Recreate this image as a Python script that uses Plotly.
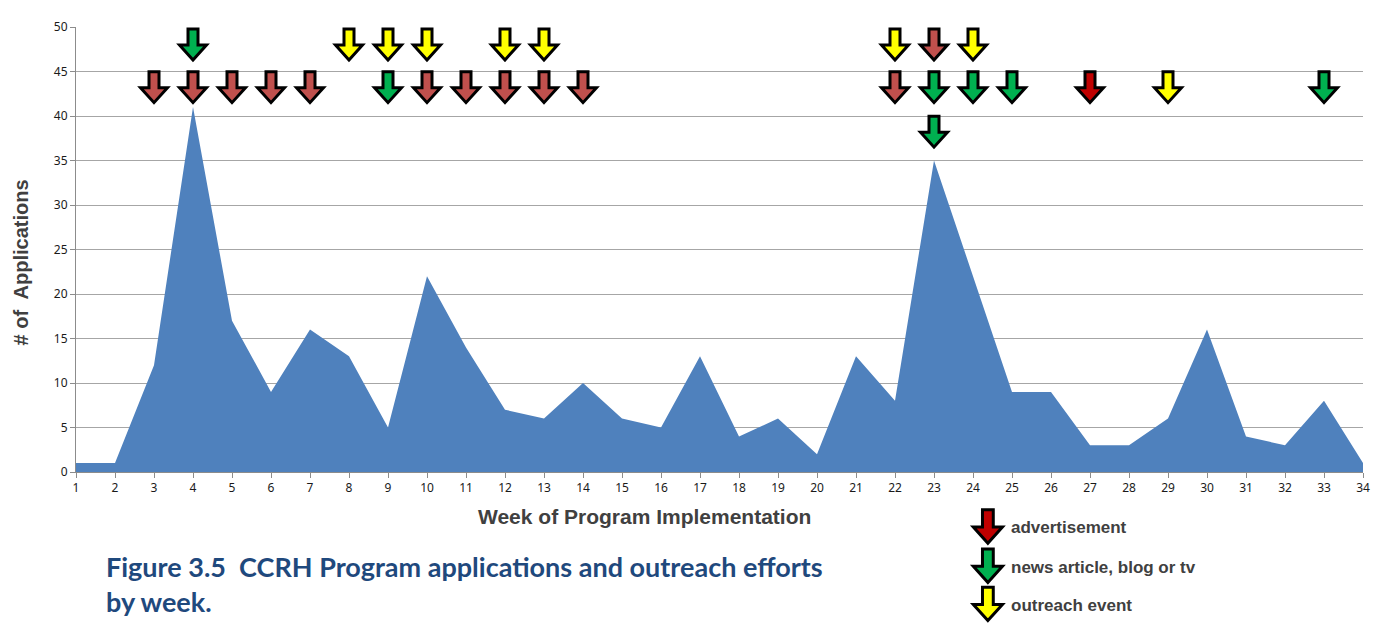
import plotly.graph_objects as go

# ---------------- data ----------------
weeks = list(range(1, 35))
applications = [1, 1, 12, 41, 17, 9, 16, 13, 5, 22, 14, 7, 6, 10, 6, 5, 13, 4, 6, 2,
                13, 8, 35, 22, 9, 9, 3, 3, 6, 16, 4, 3, 8, 1]

# outreach efforts marked by arrows: week, kind, tier (1 = top row, 2 = middle, 3 = lower)
event_weeks = [4, 8, 9, 10, 12, 13, 22, 23, 24,
               3, 4, 5, 6, 7, 9, 10, 11, 12, 13, 14, 22, 23, 24, 25, 27, 29, 33,
               23]
event_kinds = ["news", "outreach", "outreach", "outreach", "outreach", "outreach", "outreach", "ad", "outreach",
               "ad", "ad", "ad", "ad", "ad", "news", "ad", "ad", "ad", "ad", "ad", "ad", "news", "news", "news",
               "ad_dark", "outreach", "news",
               "news"]
event_tiers = [1, 1, 1, 1, 1, 1, 1, 1, 1,
               2, 2, 2, 2, 2, 2, 2, 2, 2, 2, 2, 2, 2, 2, 2, 2, 2, 2,
               3]

legend_kinds = ["ad_dark", "news", "outreach"]
legend_labels = ["advertisement", "news article, blog or tv", "outreach event"]

y_ticks = [0, 5, 10, 15, 20, 25, 30, 35, 40, 45, 50]

# ---------------- style ----------------
KIND_COLOR = {"ad": "#C0504D", "ad_dark": "#C00000", "news": "#00B050", "outreach": "#FFFF00"}
TIER_Y = {1: 48.1, 2: 43.3, 3: 38.3}
AREA = "#4F81BD"
TXT = "#404040"
CAPTION = "#1F497D"

OFF = 8  # page body margin
W, H = 1380 - OFF, 624 - OFF
ML, MR, MT, MB = 76 - OFF, 14, 18 - OFF, 152
PW, PH = W - ML - MR, H - MT - MB


def px_x(p):
    """page pixel -> paper x"""
    return (p - OFF - ML) / PW


def px_y(p):
    """page pixel -> paper y"""
    return (H - MB - (p - OFF)) / PH


def arrow_path(s=1.0):
    pts = [(-5, 15), (5, 15), (5, -1), (13.5, -1), (0, -16), (-13.5, -1), (-5, -1)]
    return "M " + " L ".join(f"{x*s:.2f},{y*s:.2f}" for x, y in pts) + " Z"


fig = go.Figure()
fig.add_trace(go.Scatter(
    x=weeks, y=applications, mode="lines", fill="tozeroy",
    line=dict(width=0, color=AREA), fillcolor=AREA, hoverinfo="x+y", showlegend=False,
))

shapes = []
for wk, kind, tier in zip(event_weeks, event_kinds, event_tiers):
    shapes.append(dict(
        type="path", xref="x", yref="y",
        xsizemode="pixel", ysizemode="pixel",
        xanchor=wk, yanchor=TIER_Y[tier],
        path=arrow_path(1.0),
        fillcolor=KIND_COLOR[kind], line=dict(color="black", width=3),
        layer="above",
    ))

annotations = []
legend_y_px = [527, 567, 606]
for kind, label, ypx in zip(legend_kinds, legend_labels, legend_y_px):
    shapes.append(dict(
        type="path", xref="paper", yref="paper",
        xsizemode="pixel", ysizemode="pixel",
        xanchor=px_x(990), yanchor=px_y(ypx),
        path=arrow_path(1.08),
        fillcolor=KIND_COLOR[kind], line=dict(color="black", width=3),
        layer="above",
    ))
    annotations.append(dict(
        text=label, xref="paper", yref="paper", x=px_x(1011), y=px_y(ypx + 2),
        xanchor="left", yanchor="middle", showarrow=False,
        font=dict(family="Liberation Sans, Arial", size=17, color=TXT, weight="bold"),
    ))

annotations.append(dict(
    text="Week of Program Implementation", xref="paper", yref="paper",
    x=px_x(646), y=px_y(517), xanchor="center", yanchor="middle", showarrow=False,
    font=dict(family="Liberation Sans, Arial", size=21, color=TXT, weight="bold"),
))
annotations.append(dict(
    text="# of  Applications", xref="paper", yref="paper", textangle=-90,
    x=px_x(OFF), y=px_y(258), xanchor="left", yanchor="middle", showarrow=False,
    font=dict(family="Liberation Sans, Arial", size=20, color=TXT, weight="bold"),
))
annotations.append(dict(
    text="Figure 3.5  CCRH Program applications and outreach efforts", xref="paper", yref="paper",
    x=px_x(104), y=px_y(568), xanchor="left", yanchor="middle", showarrow=False,
    font=dict(family="Lato", size=27, color=CAPTION, weight="bold"),
))
annotations.append(dict(
    text="by week.", xref="paper", yref="paper",
    x=px_x(104), y=px_y(604), xanchor="left", yanchor="middle", showarrow=False,
    font=dict(family="Lato", size=27, color=CAPTION, weight="bold"),
))

fig.update_layout(
    width=W, height=H,
    margin=dict(l=ML, r=MR, t=MT, b=MB),
    paper_bgcolor="white", plot_bgcolor="white",
    shapes=shapes, annotations=annotations, showlegend=False,
    font=dict(family="Noto Sans", size=12, color="#1a1a1a"),
)
fig.update_xaxes(
    range=[1, 34], tickmode="array", tickvals=weeks, ticktext=[str(w) for w in weeks],
    showgrid=False, showline=True, linecolor="#8c8c8c", linewidth=1,
    ticks="outside", ticklen=5, tickcolor="#8c8c8c", tickfont=dict(size=12),
    zeroline=False, fixedrange=True,
)
fig.update_yaxes(
    range=[0, 50], tickmode="array", tickvals=y_ticks,
    showgrid=True, gridcolor="#a6a6a6", gridwidth=1,
    showline=True, linecolor="#8c8c8c", linewidth=1,
    ticks="outside", ticklen=5, tickcolor="#8c8c8c", tickfont=dict(size=12),
    zeroline=False, fixedrange=True,
)

fig.write_html("out.html")
